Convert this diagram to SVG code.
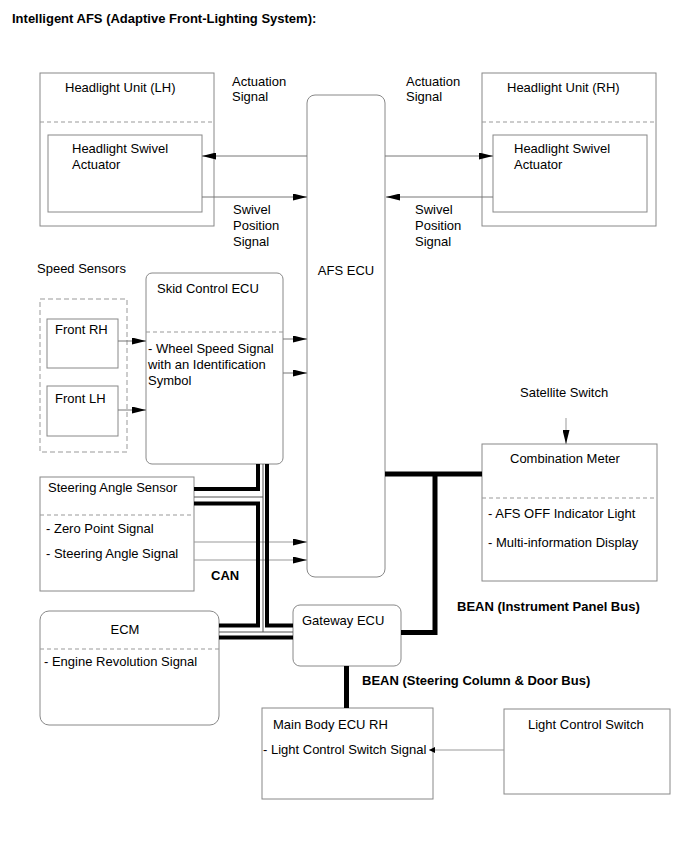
<svg xmlns="http://www.w3.org/2000/svg" width="690" height="854" viewBox="0 0 690 854">
<style>
text{font-family:"Liberation Sans",Arial,sans-serif;font-size:13px;fill:#000}
.b{font-weight:bold}
.box{fill:#fff;stroke:#888;stroke-width:1}
.dash{stroke:#999;stroke-width:1;stroke-dasharray:4 3;fill:none}
.sig{stroke:#777;stroke-width:1;fill:none;marker-end:url(#ah)}
.sig2{stroke:#999;stroke-width:1;fill:none;marker-end:url(#ah)}
.can{stroke:#000;stroke-width:4;fill:none}
.canthin{stroke:#555;stroke-width:1;fill:none}
.bean{stroke:#000;stroke-width:5;fill:none}
</style>
<defs>
<marker id="ah" markerUnits="userSpaceOnUse" markerWidth="14" markerHeight="7" refX="14" refY="3.5" orient="auto">
<path d="M0,0 L14,3.5 L0,7 z" fill="#000"/>
</marker>
<marker id="ahs" markerUnits="userSpaceOnUse" markerWidth="6" markerHeight="6" refX="6" refY="3" orient="auto">
<path d="M0,0 L6,3 L0,6 z" fill="#000"/>
</marker>
</defs>
<rect width="690" height="854" fill="#fff"/>
<text class="b" x="12" y="23">Intelligent AFS (Adaptive Front-Lighting System):</text>

<g id="headlight-lh">
<rect class="box" x="40" y="73" width="174" height="153"/>
<line class="dash" x1="40" y1="122" x2="214" y2="122"/>
<text x="65" y="92">Headlight Unit (LH)</text>
<rect class="box" x="48" y="135" width="154" height="77"/>
<text x="72" y="153">Headlight Swivel</text>
<text x="72" y="169">Actuator</text>
</g>

<g id="headlight-rh">
<rect class="box" x="482" y="73" width="174" height="153"/>
<line class="dash" x1="482" y1="122" x2="656" y2="122"/>
<text x="507" y="92">Headlight Unit (RH)</text>
<rect class="box" x="493" y="135" width="154" height="77"/>
<text x="514" y="153">Headlight Swivel</text>
<text x="514" y="169">Actuator</text>
</g>

<g id="afs-ecu">
<rect class="box" x="307" y="95" width="78" height="482" rx="8" ry="8"/>
<text x="346" y="275" text-anchor="middle">AFS ECU</text>
</g>

<g id="speed-sensors">
<rect x="40" y="299" width="87" height="153" fill="none" stroke="#999" stroke-dasharray="5 3"/>
<text x="37" y="273">Speed Sensors</text>
</g>
<g id="front-rh">
<rect class="box" x="47" y="319" width="71" height="49"/>
<text x="55" y="334">Front RH</text>
</g>
<g id="front-lh">
<rect class="box" x="47" y="386" width="71" height="50"/>
<text x="55" y="403">Front LH</text>
</g>

<g id="skid-ecu">
<rect class="box" x="146" y="273" width="137" height="191" rx="6" ry="6"/>
<line class="dash" x1="146" y1="332" x2="283" y2="332"/>
<text x="157" y="293">Skid Control ECU</text>
<text x="148" y="353">- Wheel Speed Signal</text>
<text x="148" y="369">with an Identification</text>
<text x="148" y="385">Symbol</text>
</g>

<g id="steering-sensor">
<rect class="box" x="40" y="477" width="154" height="114"/>
<line class="dash" x1="40" y1="515" x2="194" y2="515"/>
<text x="48" y="492">Steering Angle Sensor</text>
<text x="46" y="533">- Zero Point Signal</text>
<text x="46" y="558">- Steering Angle Signal</text>
</g>

<g id="ecm">
<rect class="box" x="40" y="611" width="179" height="114" rx="9" ry="9"/>
<line class="dash" x1="40" y1="649" x2="219" y2="649"/>
<text x="125" y="634" text-anchor="middle">ECM</text>
<text x="44" y="666">- Engine Revolution Signal</text>
</g>

<g id="gateway-ecu">
<rect class="box" x="293" y="605" width="108" height="61" rx="7" ry="7"/>
<text x="302" y="625">Gateway ECU</text>
</g>

<g id="combination-meter">
<rect class="box" x="482" y="444" width="175" height="137"/>
<line class="dash" x1="482" y1="498" x2="657" y2="498"/>
<text x="510" y="463">Combination Meter</text>
<text x="488" y="518">- AFS OFF Indicator Light</text>
<text x="488" y="547">- Multi-information Display</text>
</g>

<g id="satellite-switch">
<text x="520" y="397">Satellite Switch</text>
</g>

<g id="main-body-ecu">
<rect class="box" x="262" y="708" width="171" height="91"/>
<text x="273" y="729">Main Body ECU RH</text>
<text x="263" y="754">- Light Control Switch Signal</text>
</g>

<g id="light-control-switch">
<rect class="box" x="504" y="709" width="166" height="85"/>
<text x="528" y="729">Light Control Switch</text>
</g>

<g id="connectors">
<path class="sig" d="M307,156 H202"/>
<path class="sig" d="M202,197 H307"/>
<path class="sig" d="M385,156 H493"/>
<path class="sig" d="M493,197 H386"/>
<path class="sig" d="M118,341 H146"/>
<path class="sig" d="M118,410 H146"/>
<path class="sig" d="M283,339 H307"/>
<path class="sig" d="M283,373 H307"/>
<path class="sig2" d="M194,542 H307"/>
<path class="sig2" d="M194,560 H307"/>
<path class="sig2" d="M566,418 V444"/>
<path d="M504,750 H429" stroke="#999" stroke-width="1" fill="none" marker-end="url(#ahs)"/>

<path class="can" d="M258,464 V489 H194"/>
<path class="can" d="M194,503.5 H258 V625.5 H219"/>
<path class="can" d="M267,464 V625.5 H293"/>
<path class="can" d="M219,637.5 H293"/>
<path class="canthin" d="M263,464 V632"/>
<path class="canthin" d="M194,497 H263"/>
<path class="canthin" d="M219,632 H293"/>

<path class="bean" d="M385,474 H482"/>
<path class="bean" d="M435,474 V632.5 H401"/>
<path class="bean" d="M346.5,666 V708"/>

<text class="b" x="211" y="580">CAN</text>
<text class="b" x="457" y="611">BEAN (Instrument Panel Bus)</text>
<text class="b" x="362" y="685">BEAN (Steering Column &amp; Door Bus)</text>
<text x="232" y="86">Actuation</text>
<text x="232" y="101">Signal</text>
<text x="233" y="214">Swivel</text>
<text x="233" y="230">Position</text>
<text x="233" y="246">Signal</text>
<text x="406" y="86">Actuation</text>
<text x="406" y="101">Signal</text>
<text x="415" y="214">Swivel</text>
<text x="415" y="230">Position</text>
<text x="415" y="246">Signal</text>
</g>
</svg>
